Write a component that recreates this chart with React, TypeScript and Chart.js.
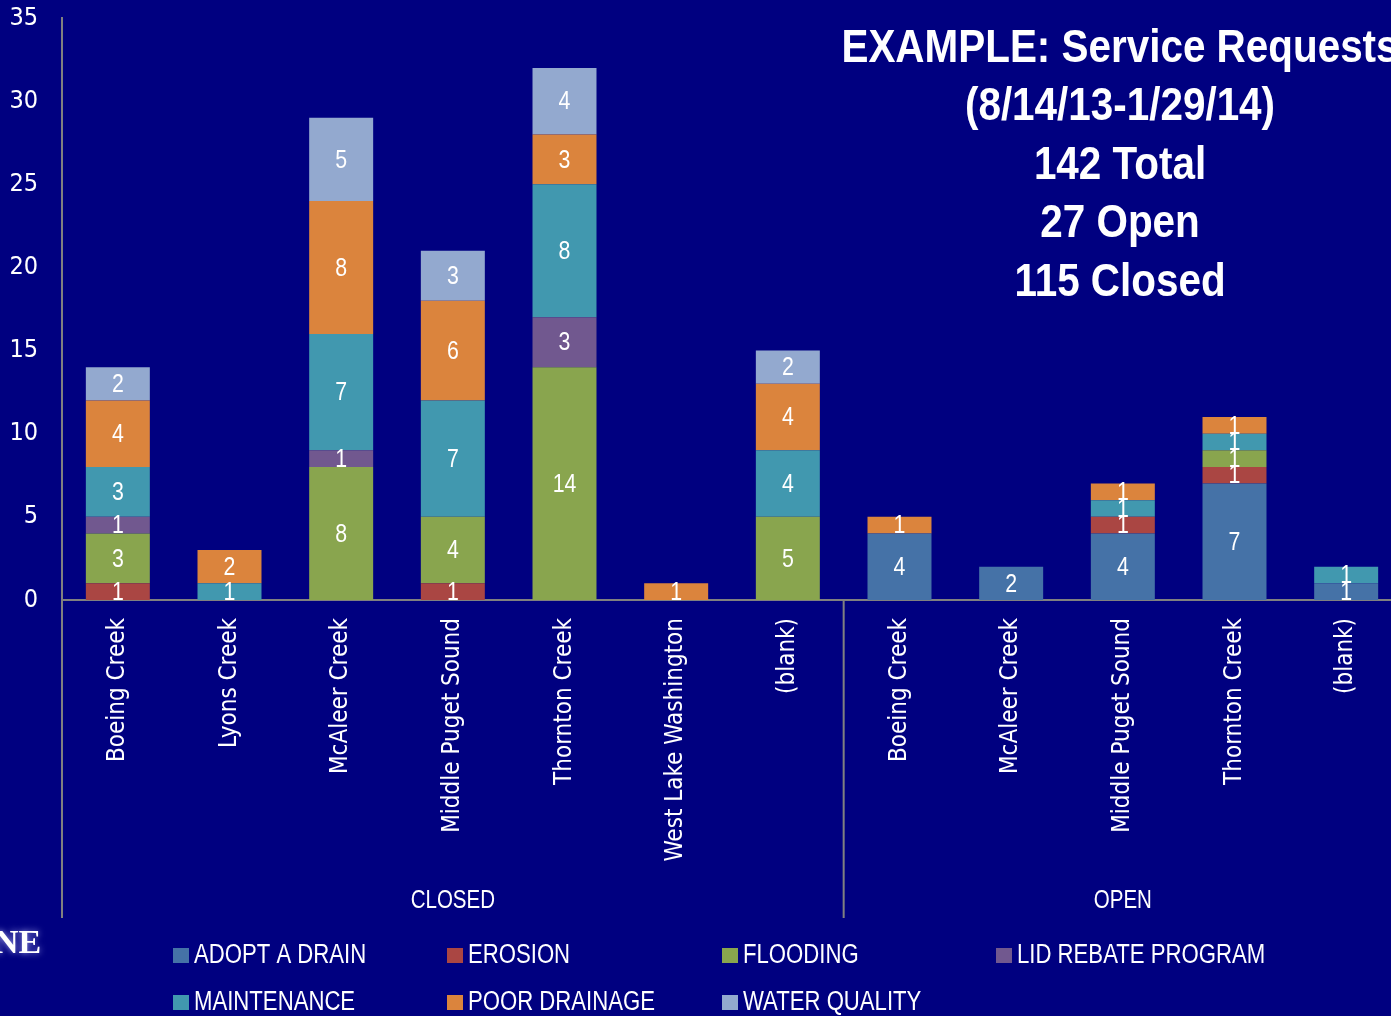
import React, { useEffect, useRef } from "react";
import { Chart, registerables } from "chart.js";

Chart.register(...registerables);

const CATEGORIES = [
  "Boeing Creek",
  "Lyons Creek",
  "McAleer Creek",
  "Middle Puget Sound",
  "Thornton Creek",
  "West Lake Washington",
  "(blank)",
  "Boeing Creek",
  "McAleer Creek",
  "Middle Puget Sound",
  "Thornton Creek",
  "(blank)",
];

const GROUP_LABELS = ["CLOSED", "OPEN"];
const GROUP_STARTS = [0, 7];
const GROUP_ENDS = [6, 11];

const SERIES_NAMES = [
  "ADOPT A DRAIN",
  "EROSION",
  "FLOODING",
  "LID REBATE PROGRAM",
  "MAINTENANCE",
  "POOR DRAINAGE",
  "WATER QUALITY",
];

const ADOPT_A_DRAIN = [0, 0, 0, 0, 0, 0, 0, 4, 2, 4, 7, 1];
const EROSION = [1, 0, 0, 1, 0, 0, 0, 0, 0, 1, 1, 0];
const FLOODING = [3, 0, 8, 4, 14, 0, 5, 0, 0, 0, 1, 0];
const LID_REBATE = [1, 0, 1, 0, 3, 0, 0, 0, 0, 0, 0, 0];
const MAINTENANCE = [3, 1, 7, 7, 8, 0, 4, 0, 0, 1, 1, 1];
const POOR_DRAINAGE = [4, 2, 8, 6, 3, 1, 4, 1, 0, 1, 1, 0];
const WATER_QUALITY = [2, 0, 5, 3, 4, 0, 2, 0, 0, 0, 0, 0];

const SERIES_VALUES = [
  ADOPT_A_DRAIN,
  EROSION,
  FLOODING,
  LID_REBATE,
  MAINTENANCE,
  POOR_DRAINAGE,
  WATER_QUALITY,
];

const COLORS = ["#4572A7", "#AA4643", "#89A54E", "#71588F", "#4198AF", "#DB843D", "#93A9CF"];

const TITLE_LINES = [
  "EXAMPLE: Service Requests",
  "(8/14/13-1/29/14)",
  "142 Total",
  "27 Open",
  "115 Closed",
];

const Y_MAX = 35;
const Y_STEP = 5;

const TICK_FONT = '"DejaVu Sans Condensed", "Liberation Sans Narrow", sans-serif';
const TEXT_FONT = '"Liberation Sans", Arial, sans-serif';
const NARROW = 0.82;
const BG = "#000080";
const AXIS = "#808080";

function narrowText(ctx: any, text: string, x: number, y: number, align: string, k = NARROW) {
  ctx.save();
  ctx.translate(x, y);
  ctx.scale(k, 1);
  ctx.textAlign = align;
  ctx.fillText(text, 0, 0);
  ctx.restore();
}

const overlayPlugin = {
  id: "overlay",
  afterDatasetsDraw(chart: any) {
    const ctx = chart.ctx;
    ctx.save();
    ctx.fillStyle = "#ffffff";
    ctx.font = `26px ${TEXT_FONT}`;
    ctx.textBaseline = "middle";
    chart.data.datasets.forEach((ds: any, di: number) => {
      const meta = chart.getDatasetMeta(di);
      meta.data.forEach((el: any, i: number) => {
        const v = ds.data[i];
        if (!v) return;
        const y = (el.y + el.base) / 2;
        narrowText(ctx, String(v), el.x, y + 1, "center");
      });
    });
    ctx.restore();
  },
  afterDraw(chart: any) {
    const ctx = chart.ctx;
    const area = chart.chartArea;
    const xs = chart.scales.x;
    const bottom = 918;
    ctx.save();
    ctx.strokeStyle = AXIS;
    ctx.lineWidth = 2;
    ctx.beginPath();
    ctx.moveTo(area.left, area.bottom);
    ctx.lineTo(area.left, bottom);
    ctx.stroke();
    for (let g = 1; g < GROUP_STARTS.length; g++) {
      const xa = xs.getPixelForValue(GROUP_STARTS[g] - 1);
      const xb = xs.getPixelForValue(GROUP_STARTS[g]);
      const sx = (xa + xb) / 2;
      ctx.beginPath();
      ctx.moveTo(sx, area.bottom);
      ctx.lineTo(sx, bottom);
      ctx.stroke();
    }
    ctx.fillStyle = "#ffffff";
    ctx.textBaseline = "middle";
    ctx.font = `25px ${TEXT_FONT}`;
    GROUP_LABELS.forEach((lab, g) => {
      const cx = (xs.getPixelForValue(GROUP_STARTS[g]) + xs.getPixelForValue(GROUP_ENDS[g])) / 2;
      narrowText(ctx, lab, cx, 901, "center");
    });
    ctx.font = `bold 47px ${TEXT_FONT}`;
    TITLE_LINES.forEach((line, i) => {
      narrowText(ctx, line, 1120, 49 + i * 58.5, "center", 0.86);
    });
    ctx.font = `27px ${TEXT_FONT}`;
    const colX = [173, 447, 722, 996];
    const rowY = [955, 1002];
    SERIES_NAMES.forEach((name, i) => {
      const c = i % 4;
      const r = Math.floor(i / 4);
      ctx.fillStyle = COLORS[i];
      ctx.fillRect(colX[c], rowY[r] - 7, 16, 15);
      ctx.fillStyle = "#ffffff";
      narrowText(ctx, name, colX[c] + 21, rowY[r] + 1, "left");
    });
    // logo fragment
    ctx.shadowColor = "rgba(200,200,255,0.8)";
    ctx.shadowBlur = 6;
    ctx.font = `bold 34px "Liberation Serif", serif`;
    ctx.textAlign = "left";
    ctx.fillStyle = "#ffffff";
    ctx.fillText("NE", -6, 944);
    ctx.shadowBlur = 0;
    ctx.restore();
  },
};

export default function App() {
  const ref = useRef<HTMLCanvasElement | null>(null);
  useEffect(() => {
    if (!ref.current) return;
    const chart = new Chart(ref.current, {
      type: "bar",
      data: {
        labels: CATEGORIES,
        datasets: SERIES_NAMES.map((name, i) => ({
          label: name,
          data: SERIES_VALUES[i],
          backgroundColor: COLORS[i],
          borderWidth: 0,
          stack: "s",
          categoryPercentage: 1,
          barPercentage: 0.573,
        })),
      },
      options: {
        responsive: false,
        animation: false,
        maintainAspectRatio: false,
        layout: { padding: { top: 18, bottom: 98, left: 0, right: 0 } },
        plugins: {
          legend: { display: false },
          tooltip: { enabled: false },
          title: { display: false },
        },
        scales: {
          x: {
            stacked: true,
            grid: { display: false },
            border: { color: AXIS, width: 2 },
            ticks: {
              color: "#ffffff",
              font: { family: TICK_FONT, size: 24 },
              minRotation: 90,
              maxRotation: 90,
              autoSkip: false,
              padding: 10,
            },
            afterFit(scale: any) {
              scale.height = 318;
              scale.paddingLeft = 0;
              scale.paddingRight = 0;
            },
          },
          y: {
            stacked: true,
            min: 0,
            max: Y_MAX,
            grid: { display: false },
            border: { color: AXIS, width: 2 },
            ticks: {
              color: "#ffffff",
              font: { family: TICK_FONT, size: 25 },
              stepSize: Y_STEP,
              padding: 16,
            },
            afterFit(scale: any) {
              scale.width = 62;
              scale.paddingTop = 0;
              scale.paddingBottom = 0;
            },
          },
        },
      },
      plugins: [overlayPlugin],
    });
    return () => chart.destroy();
  }, []);
  return (
    <div
      style={{
        position: "absolute",
        left: 0,
        top: 0,
        width: 1391,
        height: 1016,
        overflow: "hidden",
        background: BG,
      }}
    >
      <canvas ref={ref} width={1402} height={1016} style={{ display: "block" }} />
    </div>
  );
}
